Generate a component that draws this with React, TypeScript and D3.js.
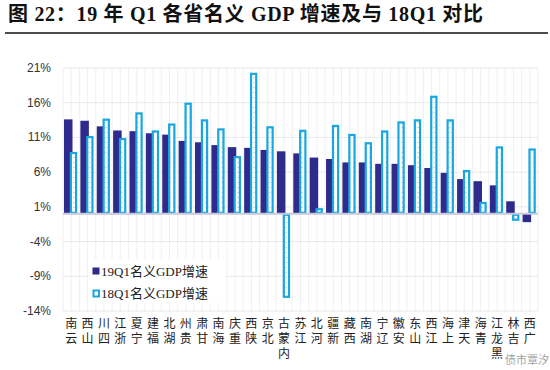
import React from 'react';
import * as d3 from 'd3';

// provinces, left to right
const provinces = [
  '云南', '山西', '四川', '浙江', '宁夏', '福建', '湖北', '贵州', '甘肃', '海南',
  '重庆', '陕西', '北京', '内蒙古', '江苏', '河北', '新疆', '西藏', '湖南', '辽宁',
  '安徽', '山东', '江西', '上海', '天津', '青海', '黑龙江', '吉林', '广西',
];

// 19Q1 nominal GDP growth, %
const growth19Q1 = [
  13.6, 13.4, 12.6, 12.0, 11.9, 11.6, 11.4, 10.5, 10.3, 9.9,
  9.6, 9.5, 9.2, 9.0, 8.7, 8.1, 7.9, 7.4, 7.4, 7.2,
  7.2, 7.0, 6.6, 5.9, 5.0, 4.7, 4.1, 1.8, -1.2,
];

// 18Q1 nominal GDP growth, %
const growth18Q1 = [
  8.9, 11.2, 13.7, 10.9, 14.6, 12.0, 13.0, 16.0, 13.6, 12.3,
  8.3, 20.3, 12.6, -12.1, 12.1, 0.8, 12.8, 11.5, 10.3, 12.0,
  13.3, 13.6, 17.0, 13.6, 6.3, 1.7, 9.7, -1.0, 9.4,
];

const yTicks = [-14, -9, -4, 1, 6, 11, 16, 21];

const seriesNames = ['19Q1名义GDP增速', '18Q1名义GDP增速'];

const DARK = '#2f2b8c';
const CYAN = '#1aa6de';
const SERIF = '"Liberation Serif", "Times New Roman", "Noto Sans CJK SC", serif';
const SANS = '"Liberation Sans", Arial, "Noto Sans CJK SC", sans-serif';

export default function App() {
  const width = 550;
  const height = 370;
  const left = 63;
  const right = 538;
  const top = 68;
  const bottom = 311;

  const x = d3.scaleBand<string>().domain(provinces).range([left, right]).padding(0);
  const y = d3.scaleLinear().domain([-14, 21]).range([bottom, top]);
  const bw = x.bandwidth();

  // minor vertical grid: every half category
  const vLines = d3.range(0, provinces.length * 2 + 1).map((i) => left + (i * bw) / 2);

  return (
    <svg
      width={width}
      height={height}
      style={{ position: 'absolute', left: 0, top: 0, background: '#fff' }}
    >
      <defs>
        <pattern id="dots" width="4" height="5" patternUnits="userSpaceOnUse">
          <rect width="4" height="5" fill="#fff" />
          <circle cx="2" cy="2.5" r="0.6" fill="#6fc2e6" />
        </pattern>
      </defs>

      <text
        x={8}
        y={21}
        fontFamily={SERIF}
        fontWeight="bold"
        fontSize={20}
        textLength={475}
        lengthAdjust="spacing"
        fill="#111"
      >
        图 22：19 年 Q1 各省名义 GDP 增速及与 18Q1 对比
      </text>
      <line x1={5} x2={548} y1={33} y2={33} stroke="#111" strokeWidth={1.5} />

      {/* grid */}
      {vLines.map((vx, i) => (
        <line key={'v' + i} x1={vx} x2={vx} y1={top} y2={bottom} stroke="#ececf0" strokeWidth={0.8} />
      ))}
      {yTicks.map((t) => (
        <line key={'h' + t} x1={left} x2={right} y1={y(t)} y2={y(t)} stroke="#e3e3e8" strokeWidth={0.8} />
      ))}

      {/* y labels */}
      {yTicks.map((t) => (
        <text
          key={'yl' + t}
          x={51}
          y={y(t) + 4}
          textAnchor="end"
          fontFamily={SANS}
          fontSize={12}
          fill="#333"
        >
          {t}%
        </text>
      ))}

      {/* bars */}
      {provinces.map((p, i) => {
        const x0 = x(p) as number;
        const v1 = growth19Q1[i];
        const v2 = growth18Q1[i];
        const dx = x0 + bw * 0.06;
        const dw = bw * 0.52;
        const lx = x0 + bw * 0.42;
        const lw = bw * 0.44;
        return (
          <g key={p}>
            <rect
              x={dx}
              y={Math.min(y(v1), y(0))}
              width={dw}
              height={Math.abs(y(v1) - y(0))}
              fill={DARK}
            />
            <rect
              x={lx + 1}
              y={Math.min(y(v2), y(0)) + 1}
              width={lw - 2}
              height={Math.max(Math.abs(y(v2) - y(0)) - 2, 0.5)}
              fill="url(#dots)"
              stroke={CYAN}
              strokeWidth={2.2}
            />
          </g>
        );
      })}

      {/* zero line */}
      <line x1={left} x2={right} y1={y(0)} y2={y(0)} stroke="#c8c8d8" strokeWidth={2} />

      {/* x labels, characters stacked bottom to top */}
      {provinces.map((p) => {
        const cx = (x(p) as number) + bw / 2;
        const chars = Array.from(p).reverse();
        return (
          <g key={'xl' + p}>
            {chars.map((ch, k) => (
              <text
                key={k}
                x={cx}
                y={328 + k * 15}
                textAnchor="middle"
                fontFamily={SERIF}
                fontSize={12}
                fill="#222"
              >
                {ch}
              </text>
            ))}
          </g>
        );
      })}

      {/* legend */}
      <rect x={88} y={259} width={138} height={44} fill="#fff" />
      <rect x={92.5} y={267.5} width={7} height={7} fill={DARK} />
      <text x={101} y={276} fontFamily={SERIF} fontSize={13} fill="#222">
        {seriesNames[0]}
      </text>
      <rect x={93.5} y={290.5} width={5.5} height={6} fill="#fff" stroke={CYAN} strokeWidth={2} />
      <text x={101} y={298} fontFamily={SERIF} fontSize={13} fill="#222">
        {seriesNames[1]}
      </text>

      {/* watermark */}
      <text x={505} y={364} fontFamily={SANS} fontSize={11} fill="#777" opacity={0.7}>
        债市覃汐
      </text>
    </svg>
  );
}
